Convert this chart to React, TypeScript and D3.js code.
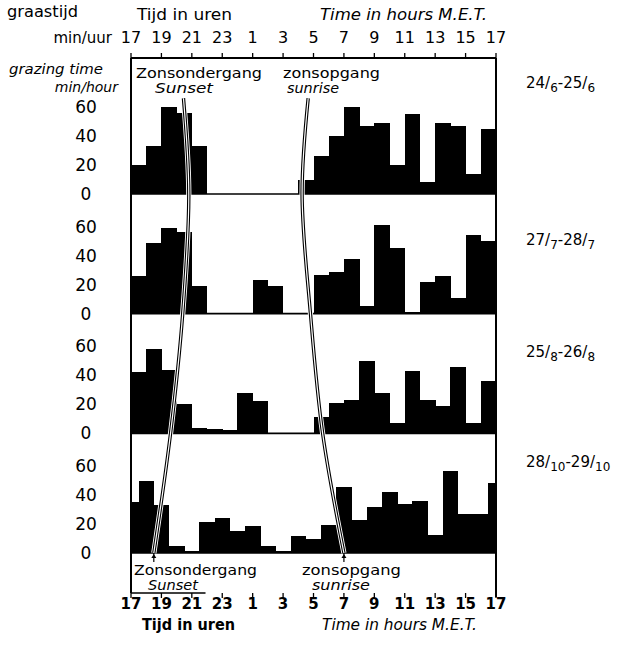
import React from "react";
import * as d3 from "d3";

// ---------- data ----------
const hourTicks = [17, 19, 21, 23, 1, 3, 5, 7, 9, 11, 13, 15, 17];
const yTicks = [0, 20, 40, 60];

// grazing time (min/hour), one bar per hour
const grazingJune = [20, 33, 60, 56, 33, 0, 0, 0, 0, 0, 0, 10, 26, 40, 60, 47, 49, 20, 55, 8, 49, 47, 14, 45];
const grazingJuly = [26, 49, 59, 56, 19, 0, 0, 0, 23, 19, 0, 0, 27, 29, 38, 5.5, 61, 45, 1, 22, 26, 11, 54, 50];
const grazingAug = [42, 58, 44, 20, 4, 3, 2, 28, 22, 0, 0, 0, 11, 21, 23, 50, 28, 7, 43, 23, 19, 46, 7, 36];
const grazingOct = [35, 50, 33, 4.6, 1.6, 21.6, 24, 15, 18.4, 4.6, 1.5, 11.5, 9.5, 19.5, 45.7, 23, 31.5, 42, 34, 35.6, 12.6, 56.8, 27, 27, 48];
// clock hour at which the first bar of each period starts
const firstBarStart = [17, 17, 17, 16.5];

// period labels: [day1, month1, day2, month2]
const periodLabels = [
  ["24", "6", "25", "6"],
  ["27", "7", "28", "7"],
  ["25", "8", "26", "8"],
  ["28", "10", "29", "10"],
];

// sunset / sunrise curves (row position in panel units, clock hour)
const curveRows = [0.2, 1, 2, 3, 4];
const sunsetHours = [20.45, 20.8, 20.4, 19.6, 18.5];
const sunriseHours = [4.65, 4.25, 4.8, 5.6, 7.0];

// ---------- layout ----------
const W = 618;
const H = 647;
const X0 = 131;
const X1 = 496;
const BOX_TOP = 58;
const BOX_BOTTOM = 593;
const labelY = [88, 245, 357, 467];
const FONT = "'DejaVu Sans', sans-serif";

const x = d3.scaleLinear().domain([17, 41]).range([X0, X1]);
const row = d3.scaleLinear().domain([1, 4]).range([194, 553]);
const v = d3.scaleLinear().domain([0, 60]).range([0, 87]);
const toAxis = (h: number) => (h < 17 ? h + 24 : h);

const series = [grazingJune, grazingJuly, grazingAug, grazingOct];

function DoubleCurve({ hours }: { hours: number[] }) {
  const pts: [number, number][] = curveRows.map((r, i) => [x(toAxis(hours[i])), row(r)]);
  const d = d3.line().curve(d3.curveCatmullRom.alpha(0.5))(pts) || "";
  return (
    <g fill="none">
      <path d={d} stroke="#fff" strokeWidth={5.2} />
      <path d={d} stroke="#000" strokeWidth={3.4} />
      <path d={d} stroke="#fff" strokeWidth={1.2} />
    </g>
  );
}

function Marker({ hour }: { hour: number }) {
  const cx = x(toAxis(hour));
  const y0 = row(4);
  return (
    <g>
      <line x1={cx} x2={cx} y1={y0} y2={y0 + 9} stroke="#000" strokeWidth={1.2} />
      <path d={`M${cx - 2.5},${y0 + 5} L${cx},${y0 + 1} L${cx + 2.5},${y0 + 5} Z`} fill="#000" />
    </g>
  );
}

export default function App() {
  return (
    <svg
      width={W}
      height={H}
      style={{ position: "absolute", left: 0, top: 0, background: "#fff" }}
      fontFamily={FONT}
    >
      <rect x={0} y={0} width={W} height={H} fill="#fff" />

      {/* bars */}
      <g shapeRendering="crispEdges">
        {series.map((vals, k) => {
          const base = row(k + 1);
          return vals.map((val, i) => {
            const s = firstBarStart[k] + i;
            const a = Math.max(17, s);
            const b = Math.min(41, s + 1);
            const h = v(val);
            return (
              <rect
                key={`${k}-${i}`}
                x={x(a)}
                width={x(b) - x(a) + 0.4}
                y={base - h}
                height={h}
                fill="#000"
              />
            );
          });
        })}
      </g>

      {/* panel separators */}
      {series.map((_, k) => (
        <line key={k} x1={X0} x2={X1} y1={row(k + 1)} y2={row(k + 1)} stroke="#000" strokeWidth={1.6} />
      ))}

      {/* box */}
      <line x1={X0} x2={X1} y1={BOX_TOP} y2={BOX_TOP} stroke="#000" strokeWidth={1.8} />
      <line x1={X0} x2={X0} y1={BOX_TOP} y2={BOX_BOTTOM} stroke="#000" strokeWidth={2} />
      <line x1={X1} x2={X1} y1={BOX_TOP} y2={BOX_BOTTOM + 4} stroke="#000" strokeWidth={2} />
      <line x1={X0} x2={x(21.9)} y1={BOX_BOTTOM} y2={BOX_BOTTOM} stroke="#000" strokeWidth={1.6} />

      {/* sunset / sunrise */}
      <DoubleCurve hours={sunsetHours} />
      <DoubleCurve hours={sunriseHours} />
      <Marker hour={sunsetHours[sunsetHours.length - 1]} />
      <Marker hour={sunriseHours[sunriseHours.length - 1]} />

      {/* top axis */}
      {hourTicks.map((t, i) => {
        const xx = x(17 + i * 2);
        return (
          <g key={`tt${i}`}>
            <line x1={xx} x2={xx} y1={BOX_TOP - 5} y2={BOX_TOP} stroke="#000" strokeWidth={1.3} />
            <text x={xx} y={43} fontSize={16} textAnchor="middle">{t}</text>
          </g>
        );
      })}
      {/* bottom axis */}
      {hourTicks.map((t, i) => {
        const xx = x(17 + i * 2);
        return (
          <g key={`bt${i}`}>
            <line x1={xx} x2={xx} y1={BOX_BOTTOM} y2={BOX_BOTTOM + 5} stroke="#000" strokeWidth={1.3} />
            <text x={xx} y={609} fontSize={15} fontWeight="bold" textAnchor="middle">{t}</text>
          </g>
        );
      })}

      {/* y tick labels */}
      {series.map((_, k) =>
        yTicks.map((t) => (
          <text
            key={`y${k}-${t}`}
            x={86}
            y={row(k + 1) - v(t) + 6}
            fontSize={17}
            textAnchor="middle"
          >
            {t}
          </text>
        ))
      )}

      {/* headers */}
      <text x={7} y={17} fontSize={15} textLength={71} lengthAdjust="spacingAndGlyphs">graastijd</text>
      <text x={112} y={43} fontSize={15} textAnchor="end">min/uur</text>
      <text x={137} y={20} fontSize={15} textLength={95} lengthAdjust="spacingAndGlyphs">Tijd in uren</text>
      <text x={320} y={20} fontSize={15} fontStyle="italic" textLength={167} lengthAdjust="spacingAndGlyphs">Time in hours  M.E.T.</text>
      <text x={9} y={74} fontSize={14} fontStyle="italic" textLength={94} lengthAdjust="spacingAndGlyphs">grazing  time</text>
      <text x={118} y={92} fontSize={14} fontStyle="italic" textAnchor="end">min/hour</text>

      {/* sun labels top */}
      <text x={136} y={78} fontSize={14} textLength={126} lengthAdjust="spacingAndGlyphs">Zonsondergang</text>
      <text x={155} y={93} fontSize={14} fontStyle="italic" textLength={58} lengthAdjust="spacingAndGlyphs">Sunset</text>
      <text x={283} y={78} fontSize={14} textLength={97} lengthAdjust="spacingAndGlyphs">zonsopgang</text>
      <text x={287} y={93} fontSize={14} fontStyle="italic" textLength={52} lengthAdjust="spacingAndGlyphs">sunrise</text>

      {/* sun labels bottom */}
      <text x={134} y={575} fontSize={14} textLength={123} lengthAdjust="spacingAndGlyphs">Zonsondergang</text>
      <text x={148} y={590} fontSize={14} fontStyle="italic" textLength={50} lengthAdjust="spacingAndGlyphs">Sunset</text>
      <text x={302} y={575} fontSize={14} textLength={99} lengthAdjust="spacingAndGlyphs">zonsopgang</text>
      <text x={312} y={590} fontSize={14} fontStyle="italic" textLength={58} lengthAdjust="spacingAndGlyphs">sunrise</text>

      {/* bottom titles */}
      <text x={142} y={630} fontSize={15} fontWeight="bold" textLength={93} lengthAdjust="spacingAndGlyphs">Tijd in uren</text>
      <text x={322} y={630} fontSize={15} fontStyle="italic" textLength={155} lengthAdjust="spacingAndGlyphs">Time in hours  M.E.T.</text>

      {/* period labels */}
      {periodLabels.map((p, k) => (
        <text key={`p${k}`} x={526} y={labelY[k]} fontSize={15}>
          <tspan>{p[0]}</tspan>
          <tspan>/</tspan>
          <tspan fontSize={12} dy={4}>{p[1]}</tspan>
          <tspan dy={-4}>-</tspan>
          <tspan>{p[2]}</tspan>
          <tspan>/</tspan>
          <tspan fontSize={12} dy={4}>{p[3]}</tspan>
        </text>
      ))}
    </svg>
  );
}
